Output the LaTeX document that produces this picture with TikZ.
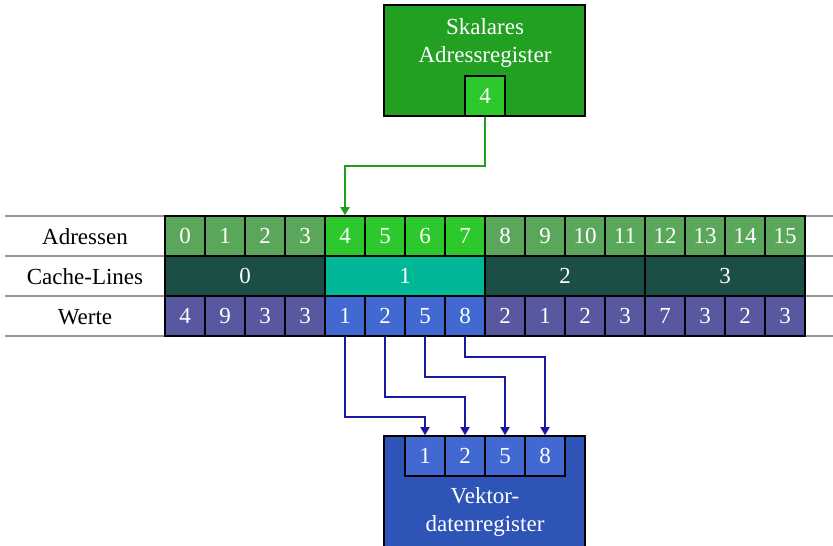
\documentclass[tikz,border=0pt]{standalone}
\usepackage{fontspec}
\setmainfont{Liberation Serif}
\usetikzlibrary{arrows.meta,calc}
\definecolor{addrc}{RGB}{90,166,90}
\definecolor{addrhi}{RGB}{44,200,44}
\definecolor{linec}{RGB}{27,78,70}
\definecolor{linehi}{RGB}{0,184,152}
\definecolor{valc}{RGB}{88,88,160}
\definecolor{valhi}{RGB}{66,104,210}
\definecolor{scalc}{RGB}{34,160,34}
\definecolor{vecc}{RGB}{45,84,182}
\definecolor{garr}{RGB}{30,160,30}
\definecolor{barr}{RGB}{24,24,160}
\definecolor{rulec}{RGB}{150,150,150}
\tikzset{
  cell/.style={draw=black,line width=1.6pt,minimum width=40pt,minimum height=40pt,
    inner sep=0pt,text=white,font=\fontsize{23}{28}\selectfont},
  wide/.style={cell,minimum width=160pt},
  rowlabel/.style={inner sep=0pt,font=\fontsize{23}{28}\selectfont},
  regbox/.style={draw=black,line width=1.6pt,inner sep=0pt},
  regtext/.style={inner sep=0pt,text=white,align=center,font=\fontsize{23}{28}\selectfont},
  rowrule/.style={draw=rulec,line width=1.6pt},
  garrow/.style={draw=garr,line width=1.6pt,-{Triangle[length=8pt,width=9pt]}},
  barrow/.style={draw=barr,line width=1.6pt,-{Triangle[length=8pt,width=9pt]}},
}
\begin{document}
\begin{tikzpicture}[x=1pt,y=-1pt]
\useasboundingbox (0,0) rectangle (833,546);
% table rules
\foreach \yy in {216,256,296,336}
  \draw[rowrule] (5,\yy) -- (833,\yy);
% row labels
\node[rowlabel] (ladr) at (85,237) {Adressen};
\node[rowlabel] (lcl) at (85,277) {Cache-Lines};
\node[rowlabel] (lval) at (85,317) {Werte};
% address and value cells
\foreach \v [count=\i from 0] in {4,9,3,3,1,2,5,8,2,1,2,3,7,3,2,3}{
  \pgfmathtruncatemacro{\hi}{(\i>3)&&(\i<8)}
  \ifnum\hi=1
    \node[cell,fill=addrhi] (a\i) at (185+40*\i,236) {\i};
    \node[cell,fill=valhi] (w\i) at (185+40*\i,316) {\v};
  \else
    \node[cell,fill=addrc] (a\i) at (185+40*\i,236) {\i};
    \node[cell,fill=valc] (w\i) at (185+40*\i,316) {\v};
  \fi
}
% cache lines
\foreach \j in {0,...,3}{
  \ifnum\j=1
    \node[wide,fill=linehi] (c\j) at (245+160*\j,276) {\j};
  \else
    \node[wide,fill=linec] (c\j) at (245+160*\j,276) {\j};
  \fi
}
% scalar address register
\node[regbox,fill=scalc,minimum width=201pt,minimum height=111pt] (sreg) at (484.5,60.5) {};
\node[regtext] (stext) at (485,43) {Skalares\\Adressregister};
\node[cell,fill=addrhi] (s4) at (485,96) {4};
% vector data register
\node[regbox,fill=vecc,minimum width=201pt,minimum height=112pt] (vreg) at (484.5,492) {};
\node[cell,fill=valhi] (v1) at (425,456) {1};
\node[cell,fill=valhi] (v2) at (465,456) {2};
\node[cell,fill=valhi] (v3) at (505,456) {5};
\node[cell,fill=valhi] (v4) at (545,456) {8};
\node[regtext] (vtext) at (485,512) {Vektor-\\datenregister};
% connectors
\draw[garrow] (s4.south) -- ++(0,49) -| (a4.north);
\draw[barrow] (w4.south) -- ++(0,80) -| (v1.north);
\draw[barrow] (w5.south) -- ++(0,60) -| (v2.north);
\draw[barrow] (w6.south) -- ++(0,40) -| (v3.north);
\draw[barrow] (w7.south) -- ++(0,20) -| (v4.north);
\end{tikzpicture}
\end{document}
